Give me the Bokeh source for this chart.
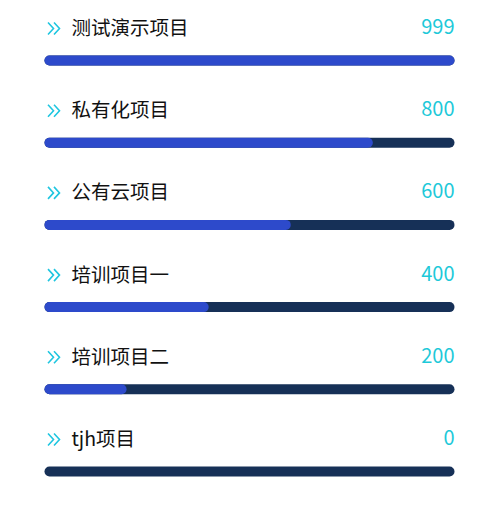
from bokeh.plotting import figure
from bokeh.models import Range1d, ColumnDataSource
from bokeh.core.properties import value
from bokeh.embed import file_html
from bokeh.resources import INLINE

names = ["测试演示项目", "私有化项目", "公有云项目", "培训项目一", "培训项目二", "tjh项目"]
values = [999, 800, 600, 400, 200, 0]

W, H = 502, 508
TRACK_X0, TRACK_LEN, BAR_W = 44, 410, 10
ROW0, ROW_STEP, BAR_OFF = 28, 82.2, 32

vmax = max(values)
n = len(names)
label_y = [ROW0 + i * ROW_STEP for i in range(n)]
bar_y = [y + BAR_OFF for y in label_y]
r = BAR_W / 2
fill_end = [TRACK_X0 + v / vmax * TRACK_LEN for v in values]

p = figure(width=W, height=H, output_backend="svg", toolbar_location=None,
           x_range=Range1d(0, W), y_range=Range1d(H, 0), min_border=0)
p.axis.visible = False
p.grid.visible = False
p.outline_line_color = None
p.background_fill_color = "white"
p.border_fill_color = "white"

# track
p.segment(x0=[TRACK_X0 + r] * n, x1=[TRACK_X0 + TRACK_LEN - r] * n, y0=bar_y, y1=bar_y,
          line_color="#163057", line_width=BAR_W, line_cap="round")
# fill
src = ColumnDataSource(dict(
    x0=[TRACK_X0 + r for v, e in zip(values, fill_end) if v > 0],
    x1=[max(e - r, TRACK_X0 + r) for v, e in zip(values, fill_end) if v > 0],
    y=[b for v, b in zip(values, bar_y) if v > 0]))
p.segment(x0="x0", x1="x1", y0="y", y1="y", source=src,
          line_color="#2d4acb", line_width=BAR_W, line_cap="round")

# chevrons
xs, ys = [], []
for y in label_y:
    for cx in (47.5, 53.5):
        xs.append([cx, cx + 5.5, cx])
        ys.append([y - 6, y, y + 6])
p.multi_line(xs, ys, line_color="#1fc6e0", line_width=1.6, line_join="miter")

TEXT_DY = -2
p.text(x=[71] * n, y=[y + TEXT_DY for y in label_y], text=names,
       text_font=value("Noto Sans CJK SC"),
       text_font_size="19.5px", text_color="#111111", text_baseline="middle", text_align="left")
p.text(x=[TRACK_X0 + TRACK_LEN] * n, y=[y + TEXT_DY for y in label_y], text=[str(v) for v in values],
       text_font=value("Noto Sans CJK SC"), text_font_size="20px", text_color="#1ec9d9",
       text_baseline="middle", text_align="right")

open("out.html", "w").write(file_html(p, INLINE))
